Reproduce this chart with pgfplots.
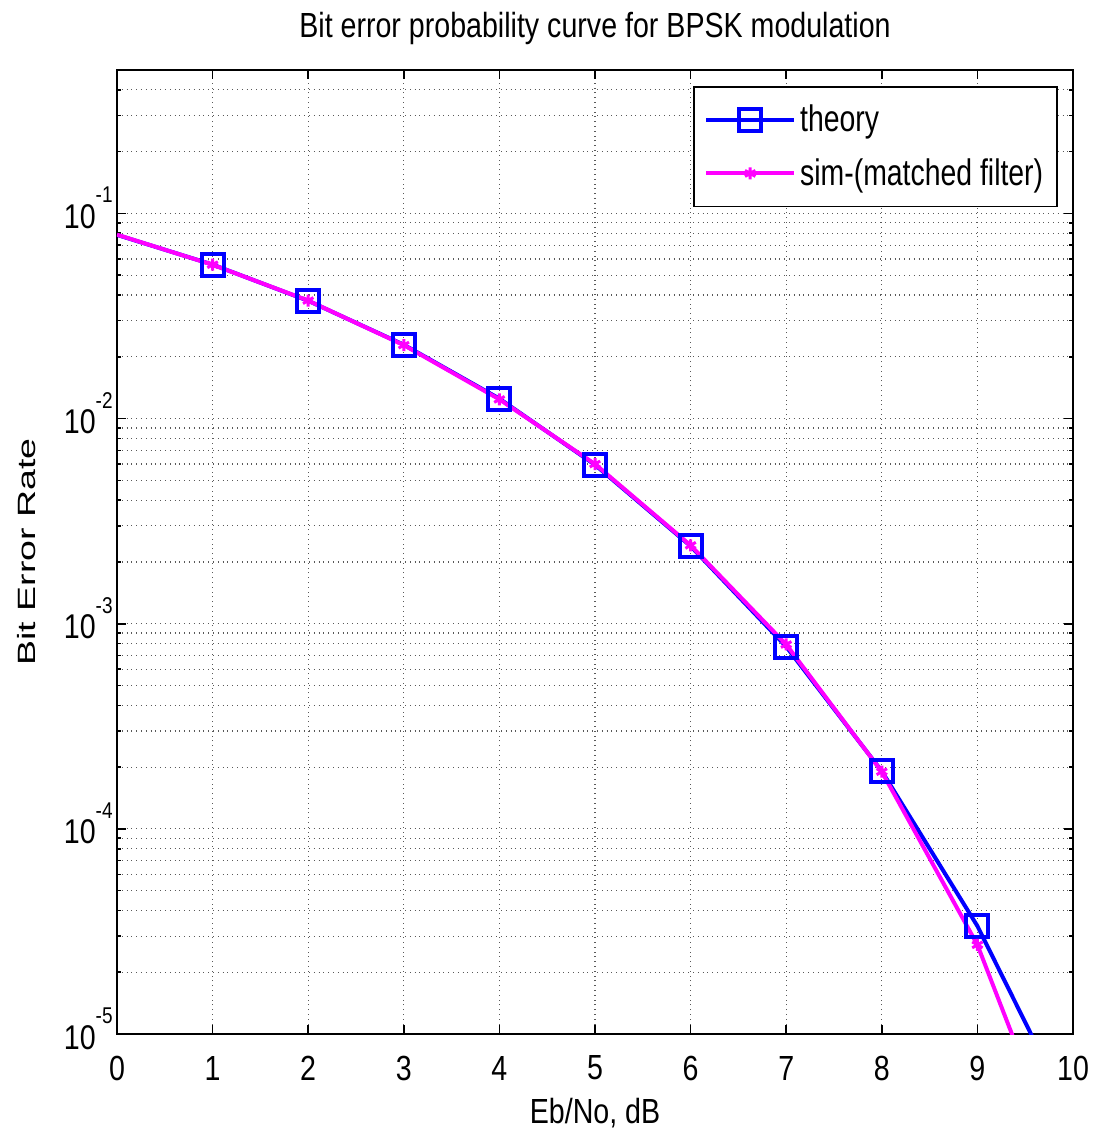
\documentclass[border=0pt]{standalone}
\usepackage{fontspec}
\setmainfont{Liberation Sans}
\usepackage{graphicx}
\usepackage{pgfplots}
\pgfplotsset{compat=1.18}
\usepackage{pgfplotstable}
\newcommand{\vs}[1]{\scalebox{1}[1.22]{#1}}
\newcommand{\vl}[1]{\scalebox{1}[1.3]{#1}}
\newcommand{\ex}[1]{\scalebox{1}[1.2]{10\raisebox{10.6pt}{\fontsize{9.5}{10}\selectfont #1}}}
\definecolor{mblue}{RGB}{0,0,255}
\definecolor{mmag}{RGB}{255,0,255}
\pgfplotstableread{
x y
0 0.0786
1 0.0563
2 0.0375
3 0.0229
4 0.0125
5 0.00595
6 0.00239
7 0.000773
8 0.000191
9 0.0000336
10 0.00000387
}\theory
\pgfplotstableread{
x y
0 0.0788
1 0.0562
2 0.0376
3 0.0228
4 0.0124
5 0.00600
6 0.00241
7 0.000792
8 0.000190
9 0.0000272
10 0.0000017
}\sim
\begin{document}
\begin{tikzpicture}
\begin{axis}[
  at={(0,0)}, anchor=south west,
  scale only axis, width=478pt, height=482pt,
  ymode=log, log basis y=10,
  xmin=0, xmax=10, ymin=1e-5, ymax=0.5,
  font=\fontsize{14.3}{17}\selectfont,
  axis line style={line width=0.8pt},
  every tick/.style={black, line width=0.8pt},
  major tick length=4.5pt, minor tick length=2pt,
  xtick={0,1,2,3,4,5,6,7,8,9,10},
  xticklabels={\vs{0},\vs{1},\vs{2},\vs{3},\vs{4},\vs{5},\vs{6},\vs{7},\vs{8},\vs{9},\vs{10}},
  ytick={1e-5,1e-4,1e-3,1e-2,1e-1},
  yticklabels={\ex{-5},\ex{-4},\ex{-3},\ex{-2},\ex{-1}},
  minor ytick={2e-5,3e-5,4e-5,5e-5,6e-5,7e-5,8e-5,9e-5,
               2e-4,3e-4,4e-4,5e-4,6e-4,7e-4,8e-4,9e-4,
               2e-3,3e-3,4e-3,5e-3,6e-3,7e-3,8e-3,9e-3,
               2e-2,3e-2,4e-2,5e-2,6e-2,7e-2,8e-2,9e-2,
               2e-1,3e-1,4e-1,5e-1},
  xticklabel style={anchor=center, yshift=-17pt},
  yticklabel style={anchor=base east, yshift=-7.5pt, inner xsep=2pt},
  xmajorgrids, ymajorgrids, yminorgrids,
  major grid style={dotted, black!65, line width=0.6pt},
  minor grid style={dotted, black!65, line width=0.6pt},
  title={\vs{Bit error probability curve for BPSK modulation}},
  title style={at={(axis description cs:0.5,1)}, anchor=center, yshift=15pt},
  xlabel={\vs{Eb/No, dB}},
  every axis x label/.style={at={(axis description cs:0.5,0)}, anchor=center, yshift=-39.5pt},
  ylabel={\fontsize{12.5}{15}\selectfont\scalebox{1.5}[1]{Bit Error Rate}},
  every axis y label/.style={at={(axis description cs:-0.0941,0.5)}, anchor=center, rotate=90},
  legend image code/.code={
    \draw[#1, mark=none] (4pt,0pt) -- (48pt,0pt);
    \draw[#1] plot coordinates {(26pt,0pt)};
  },
  legend style={at={(axis description cs:1,1)}, anchor=north east, xshift=-7.5pt, yshift=-8pt,
    draw=black, line width=0.8pt, font=\fontsize{14.2}{17}\selectfont,
    row sep=8pt, inner xsep=5pt, inner ysep=7pt},
  legend cell align=left,
]
\addplot[mblue, line width=2pt, forget plot] table[x=x,y=y] {\theory};
\addplot[mblue, only marks, mark=square, mark size=5.5pt, mark options={line width=2pt}, restrict x to domain=1:9, forget plot] table[x=x,y=y] {\theory};
\addplot[mmag, line width=2pt, forget plot] table[x=x,y=y] {\sim};
\addplot[mmag, only marks, mark=asterisk, mark size=3pt, mark options={line width=1.5pt}, restrict x to domain=1:9, forget plot] table[x=x,y=y] {\sim};
\addlegendimage{mblue, line width=2pt, mark=square, mark size=5.5pt, mark options={line width=2pt}}
\addlegendentry{\vl{theory}}
\addlegendimage{mmag, line width=2pt, mark=asterisk, mark size=3pt, mark options={line width=1.5pt}}
\addlegendentry{\vl{sim-(matched filter)}}
\end{axis}
\pgfresetboundingbox
\useasboundingbox (-58.5pt,-53pt) rectangle (489pt,517pt);
\end{tikzpicture}
\end{document}
